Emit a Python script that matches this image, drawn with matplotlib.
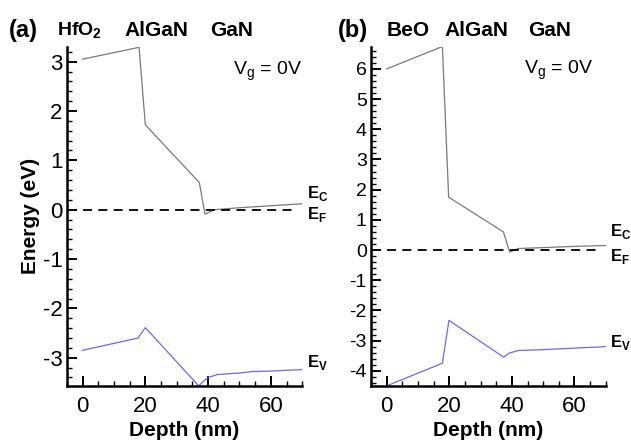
import numpy as np
import matplotlib.pyplot as plt
from matplotlib.ticker import MultipleLocator

plt.rcParams['font.family'] = ['Liberation Sans', 'DejaVu Sans']
plt.rcParams['axes.unicode_minus'] = False

# panel (a): HfO2 / AlGaN / GaN
depth_c_a = [0, 18, 20, 37.2, 39, 42, 50, 60, 70]
ec_a = [3.05, 3.29, 1.72, 0.55, -0.09, 0.0, 0.04, 0.08, 0.12]
depth_v_a = [0, 17.7, 20, 37, 38.5, 40, 43, 50, 54, 60, 70]
ev_a = [-2.85, -2.6, -2.39, -3.57, -3.48, -3.4, -3.34, -3.31, -3.28, -3.27, -3.24]

# panel (b): BeO / AlGaN / GaN
depth_c_b = [0, 17.8, 19.8, 37.3, 39.3, 42, 50, 60, 70]
ec_b = [6.0, 6.74, 1.75, 0.6, -0.07, 0.05, 0.08, 0.12, 0.15]
depth_v_b = [0, 17.8, 19.9, 37.4, 39, 42, 50, 60, 70]
ev_b = [-4.5, -3.75, -2.33, -3.55, -3.42, -3.33, -3.3, -3.25, -3.2]

ef_depth = [0, 67]
ef = [0, 0]

gray = '#7a7a7a'
blue = '#6a6af0'

fig = plt.figure(figsize=(6.31, 4.42), dpi=100)
ax1 = fig.add_axes([0.106, 0.127, 0.373, 0.767])
ax2 = fig.add_axes([0.588, 0.127, 0.372, 0.767])


def style(ax, ylim, yfs):
    ax.set_xlim(-5, 70)
    ax.set_ylim(ylim)
    for s in ['top', 'right']:
        ax.spines[s].set_visible(False)
    for s in ['left', 'bottom']:
        ax.spines[s].set_linewidth(1.8)
    ax.xaxis.set_major_locator(MultipleLocator(20))
    ax.xaxis.set_minor_locator(MultipleLocator(5))
    ax.yaxis.set_major_locator(MultipleLocator(1))
    ax.yaxis.set_minor_locator(MultipleLocator(0.2))
    ax.tick_params(which='major', direction='in', length=7, width=1.4)
    ax.tick_params(which='minor', direction='in', length=3.5, width=1.0)
    ax.tick_params(axis='x', labelsize=16, pad=7)
    ax.tick_params(axis='y', labelsize=yfs, pad=3)
    ax.set_xlabel('Depth (nm)', fontsize=15, fontweight='bold', labelpad=3)


# (a)
ax1.plot(depth_c_a, ec_a, color=gray, lw=0.9)
ax1.plot(depth_v_a, ev_a, color=blue, lw=0.9)
ax1.plot(ef_depth, ef, color='black', lw=1.3, dashes=(5, 3.5))
style(ax1, (-3.57, 3.3), 16)
ax1.set_ylabel('Energy (eV)', fontsize=15, fontweight='bold', labelpad=2)
ax1.text(71.5, 0.32, r'E$_\mathregular{C}$', fontsize=12, fontweight='bold', va='center', clip_on=False)
ax1.text(71.5, -0.1, r'E$_\mathregular{F}$', fontsize=12, fontweight='bold', va='center', clip_on=False)
ax1.text(71.5, -3.1, r'E$_\mathregular{V}$', fontsize=12, fontweight='bold', va='center', clip_on=False)
ax1.text(48, 2.74, r'V$_\mathregular{g}$ = 0V', fontsize=14, va='baseline')

# (b)
ax2.plot(depth_c_b, ec_b, color=gray, lw=0.9)
ax2.plot(depth_v_b, ev_b, color=blue, lw=0.9)
ax2.plot(ef_depth, ef, color='black', lw=1.3, dashes=(5, 3.5))
style(ax2, (-4.5, 6.73), 14)
ax2.text(71.5, 0.6, r'E$_\mathregular{C}$', fontsize=12, fontweight='bold', va='center', clip_on=False)
ax2.text(71.5, -0.22, r'E$_\mathregular{F}$', fontsize=12, fontweight='bold', va='center', clip_on=False)
ax2.text(71.5, -3.06, r'E$_\mathregular{V}$', fontsize=12, fontweight='bold', va='center', clip_on=False)
ax2.text(43.8, 5.83, r'V$_\mathregular{g}$ = 0V', fontsize=14, va='baseline')

# headers
hy = 0.930
fig.text(0.014, hy, '(a)', fontsize=17, fontweight='bold', va='center')
fig.text(0.090, hy, r'HfO$_\mathregular{2}$', fontsize=14, fontweight='bold', va='center')
fig.text(0.198, hy, 'AlGaN', fontsize=15, fontweight='bold', va='center')
fig.text(0.333, hy, 'GaN', fontsize=15, fontweight='bold', va='center')
fig.text(0.536, hy, '(b)', fontsize=17, fontweight='bold', va='center')
fig.text(0.613, hy, 'BeO', fontsize=15, fontweight='bold', va='center')
fig.text(0.705, hy, 'AlGaN', fontsize=15, fontweight='bold', va='center')
fig.text(0.837, hy, 'GaN', fontsize=15, fontweight='bold', va='center')

fig.savefig('out.png', dpi=100)
